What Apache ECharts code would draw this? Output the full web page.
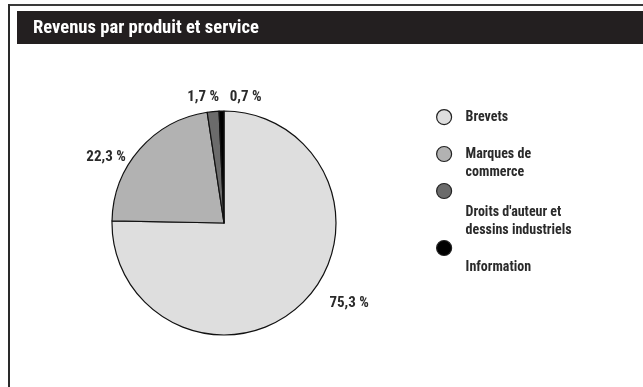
<!DOCTYPE html>
<html>
<head>
<meta charset="utf-8">
<style>
  html, body { margin: 0; padding: 0; background: #fff; }
  #chart { width: 643px; height: 387px; }
</style>
<script src="https://cdn.jsdelivr.net/npm/echarts@6/dist/echarts.min.js"></script>
</head>
<body>
<div id="chart"></div>
<script>
// Revenue share by product / service (percent)
const categories = ['Brevets', 'Marques de commerce', "Droits d'auteur et dessins industriels", 'Information'];
const legendLines = [['Brevets'], ['Marques de', 'commerce'], ["Droits d'auteur et", 'dessins industriels'], ['Information']];
const shares = [75.3, 22.3, 1.7, 0.7];
const colors = ['#dedede', '#b2b2b2', '#6b6b6b', '#000000'];
const titleText = 'Revenus par produit et service';

const FONT = '"Roboto Condensed", "Open Sans Condensed", "DejaVu Sans Condensed", sans-serif';
const INK = '#2a2a2a';

// each legend entry: blank space above its text lines, and vertical placement
const legendGap = [0, 18, 60, 38];
const legendTop = [109, 130, 167, 233];

const legends = categories.map((c, i) => ({
  orient: 'vertical',
  left: 436,
  top: legendTop[i],
  padding: 0,
  itemWidth: 15,
  itemHeight: 15,
  icon: 'circle',
  selectedMode: false,
  itemStyle: { borderColor: '#222', borderWidth: 1.2 },
  textStyle: {
    rich: {
      t: { fontFamily: FONT, fontWeight: 'bold', fontSize: 14, lineHeight: 18, color: INK, padding: [0, 0, 0, 9] },
      a: { fontSize: 12, lineHeight: legendGap[i] }
    }
  },
  formatter: function () {
    const lines = legendLines[i].map(s => '{t|' + s + '}');
    return (legendGap[i] ? ['{a|\u00a0}'] : []).concat(lines).join('\n');
  },
  data: [c]
}));

// fine offsets of the percentage labels
const labelShift = [[22, 0], [-9, 8], [11, -14], [45, -14]];

const chart = echarts.init(document.getElementById('chart'), null, { renderer: 'canvas' });
chart.setOption({
  animation: false,
  backgroundColor: '#ffffff',
  title: {
    text: titleText,
    left: 33,
    top: 19,
    padding: 0,
    textStyle: { color: '#ffffff', fontFamily: FONT, fontWeight: 'bold', fontSize: 18.6 }
  },
  graphic: [
    { type: 'rect', z: -1, shape: { x: 17, y: 11, width: 626, height: 33 }, style: { fill: '#231f20' } },
    { type: 'rect', z: -1, shape: { x: 8, y: 4, width: 635, height: 2 }, style: { fill: '#3a3a3a' } },
    { type: 'rect', z: -1, shape: { x: 8, y: 4, width: 2, height: 383 }, style: { fill: '#2a2a2a' } }
  ],
  legend: legends,
  series: [{
    type: 'pie',
    center: [224, 223],
    radius: 112,
    startAngle: 90,
    clockwise: true,
    avoidLabelOverlap: false,
    itemStyle: { borderColor: '#111', borderWidth: 1.2 },
    label: {
      show: true,
      position: 'outside',
      fontFamily: FONT,
      fontWeight: 'bold',
      fontSize: 15,
      color: INK,
      formatter: p => p.value.toFixed(1).replace('.', ',') + ' %'
    },
    labelLine: { show: false, length: 0, length2: 0 },
    labelLayout: function (params) {
      const s = labelShift[params.dataIndex];
      return { dx: s[0], dy: s[1] };
    },
    emphasis: { disabled: true },
    data: categories.map((c, i) => ({ name: c, value: shares[i], itemStyle: { color: colors[i] } }))
  }]
});
</script>
</body>
</html>
